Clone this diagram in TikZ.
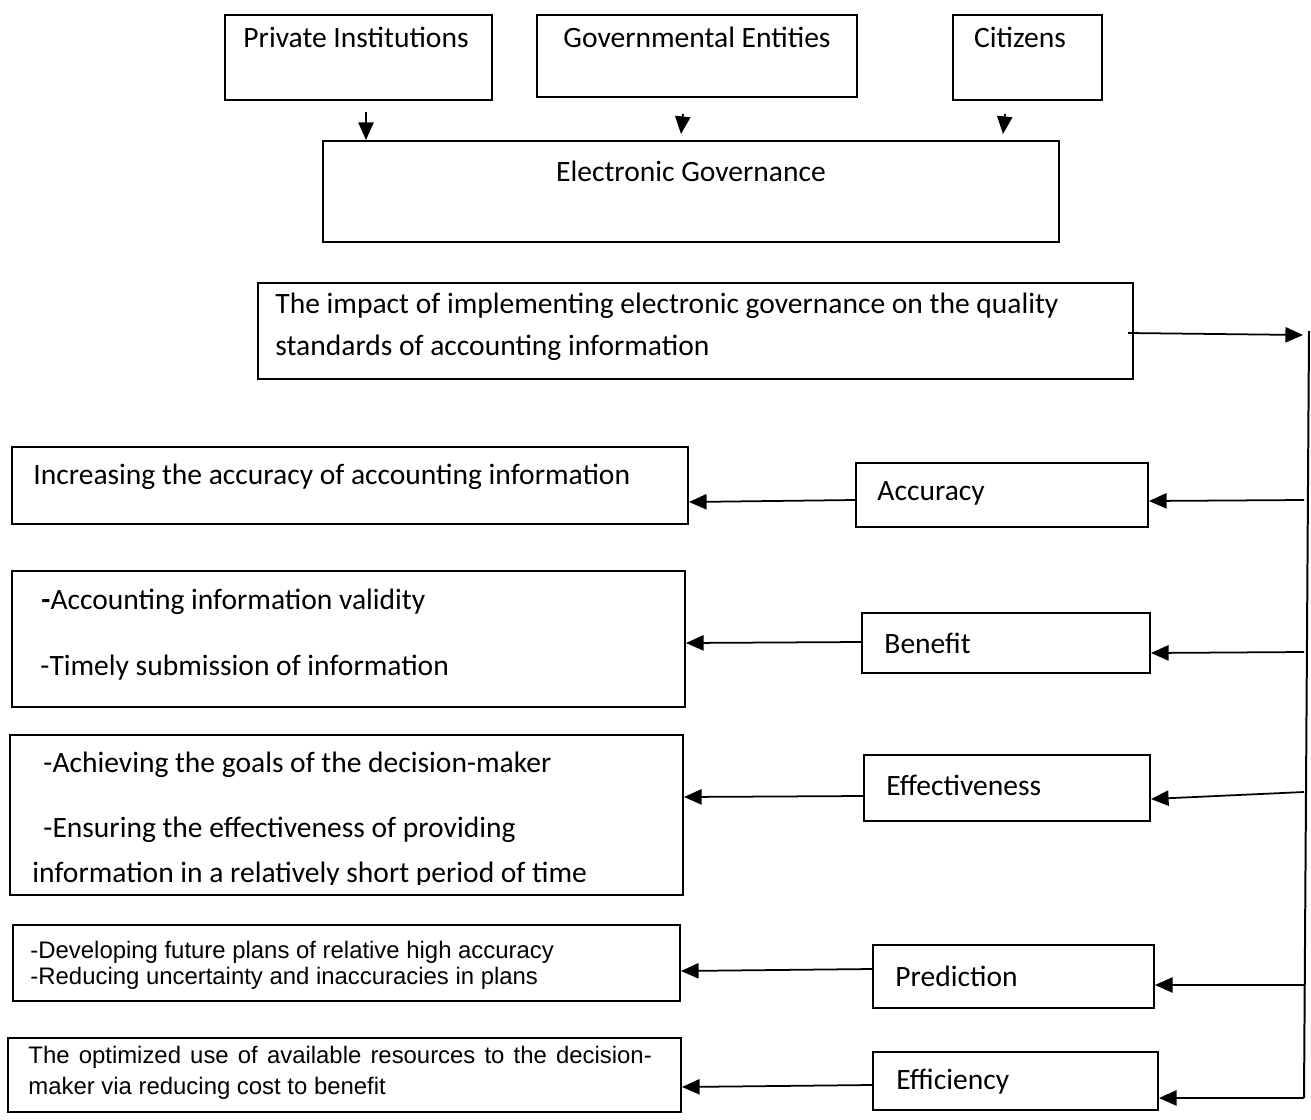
\documentclass[tikz,border=0pt]{standalone}
\usepackage{fontspec}
\setmainfont{Carlito}
\newfontfamily\arialfont{Liberation Sans}
\usetikzlibrary{arrows.meta,fit}

\begin{document}
\begin{tikzpicture}[
  x=0.015cm, y=-0.015cm,
  every node/.style={font=\fontsize{12.6}{15}\selectfont},
  box/.style={draw, line width=0.85pt, inner sep=0pt},
  txt/.style={anchor=west, inner sep=0pt, align=left},
  small/.style={font=\arialfont\fontsize{10.2}{13}\selectfont},
  link/.style={-{Triangle[length=7.5pt,width=6.5pt]}, line width=0.75pt}
]
\useasboundingbox (0,0) rectangle (1311,1120);

% sources
\node[box, fit={(225,15) (492,100)}] (priv) {};
\node (priv-t) at (356,37) {Private Institutions};
\node[box, fit={(537,15) (857,97)}] (gov) {};
\node (gov-t) at (697,37) {Governmental Entities};
\node[box, fit={(953,15) (1102,100)}] (cit) {};
\node (cit-t) at (1020,37) {Citizens};

\node[box, fit={(323,141) (1059,242)}] (egov) {};
\node (egov-t) at (691,171) {Electronic Governance};

\coordinate (p1) at (366,112);
\coordinate (p2) at (683,114);
\coordinate (p2e) at (681,134);
\coordinate (p3) at (1005,114);
\coordinate (p3e) at (1003,134);
\draw[link] (p1) -- (p1 |- egov.north);
\draw[link] (p2) -- (p2e);
\draw[link] (p3) -- (p3e);

% impact
\node[box, fit={(258,283) (1133,379)}] (imp) {};
\node[txt] (imp-t) at (275,306) {The impact of implementing electronic governance on the quality};
\node[txt] (imp-u) at (275,348) {standards of accounting information};

\coordinate (vtop) at (1309,331);
\coordinate (vbot) at (1304,1098);
\coordinate (imp-o) at (1128,333);
\draw[line width=0.85pt] (vtop) -- (vbot);
\draw[link] (imp-o) -- (1303,335);

% criteria
\foreach \name/\xa/\ya/\xb/\yb/\lab/\tx/\ty/\ay/\by in {
  acc/856/463/1148/527/Accuracy/877/493/500/501,
  ben/862/613/1150/673/Benefit/884/643/652/653,
  eff/864/755/1150/821/Effectiveness/886/785/792/799,
  pre/873/945/1154/1008/Prediction/895/976/985/985,
  efc/873/1052/1158/1110/Efficiency/896/1082/1098/1098}
{
  \node[box, fit={(\xa,\ya) (\xb,\yb)}] (\name) {};
  \node[txt] (\name-t) at (\tx,\ty) {\lab};
  \draw[link] (vbot |- 0,\ay) -- (\name.east |- 0,\by);
}

% outcomes
\node[box, fit={(12,447) (688,524)}] (o1) {};
\node[txt] (o1-t) at (33,477) {Increasing the accuracy of accounting information};

\node[box, fit={(12,571) (685,707)}] (o2) {};
\node[txt] (o2-t) at (41,602) {\textbf{-}Accounting information validity};
\node[txt] (o2-u) at (40,668) {-Timely submission of information};

\node[box, fit={(10,735) (683,895)}] (o3) {};
\node[txt] (o3-t) at (43,765) {-Achieving the goals of the decision-maker};
\node[txt] (o3-u) at (43,830) {-Ensuring the effectiveness of providing};
\begin{scope}
  \clip (10,735) rectangle (683,884);
  \node[txt] (o3-v) at (32,875) {information in a relatively short period of time};
\end{scope}

\node[box, fit={(13,925) (680,1001)}] (o4) {};
\node[txt, small] (o4-t) at (30,952) {-Developing future plans of relative high accuracy};
\node[txt, small] (o4-u) at (30,978) {-Reducing uncertainty and inaccuracies in plans};

\node[box, fit={(8,1038) (681,1112)}] (o5) {};
\node[txt, font=\arialfont\fontsize{10.2}{13.2}\selectfont, text width=9.35cm, align=justify] (o5-t) at (28,1073)
  {The optimized use of available resources to the decision-\linebreak maker via reducing cost to benefit};

\draw[link] (acc.west |- 0,500) -- (o1.east |- 0,502);
\draw[link] (ben.west |- 0,642) -- (o2.east |- 0,643);
\draw[link] (eff.west |- 0,796) -- (o3.east |- 0,797);
\draw[link] (pre.west |- 0,969) -- (o4.east |- 0,971);
\draw[link] (efc.west |- 0,1085) -- (o5.east |- 0,1087);
\end{tikzpicture}
\end{document}
